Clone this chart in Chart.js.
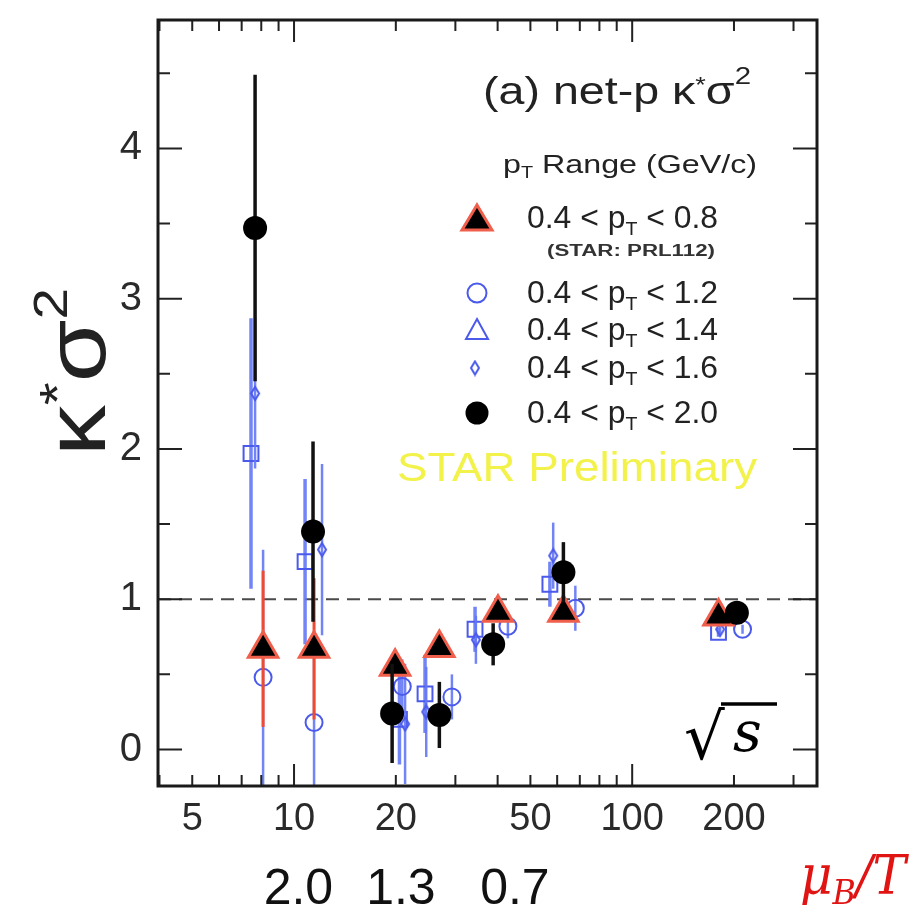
<!DOCTYPE html>
<html><head><meta charset="utf-8">
<script src="https://cdn.jsdelivr.net/npm/chart.js@4/dist/chart.umd.min.js"></script>
<style>html,body{margin:0;padding:0;background:#fff;}#wrap{position:relative;width:914px;height:921px;}</style>
</head><body><div id="wrap"><canvas id="c" width="914" height="921"></canvas></div>
<script>
// ---- data (sqrt(s) in GeV, kappa*sigma^2, error) ----
const energyBlack = [7.67, 11.38, 19.5, 26.9, 38.8, 62.6, 204];
const kappaBlack  = [3.47, 1.45, 0.24, 0.23, 0.70, 1.18, 0.91];
const errBlack    = [1.02, 0.60, 0.33, 0.22, 0.14, 0.20, 0.06];

const energyRed = [8.1, 11.46, 19.9, 26.9, 40.1, 62.6, 180];
const kappaRed  = [0.67, 0.67, 0.55, 0.675, 0.91, 0.91, 0.885];
const errRed    = [0.52, 0.47, 0.06, 0.04, 0.03, 0.05, 0.02];

const energyC12 = [8.1, 11.46, 20.9, 29.3, 42.9, 67.9, 212];
const kappaC12  = [0.48, 0.18, 0.42, 0.35, 0.82, 0.94, 0.80];
const errC12    = [0.85, 0.60, 0.18, 0.15, 0.08, 0.15, 0.03];

const energyS14 = [7.46, 10.78, 20.5, 24.4, 34.3, 57.1, 180];
const kappaS14  = [1.97, 1.25, 0.20, 0.37, 0.80, 1.10, 0.78];
const errS14    = [0.90, 0.55, 0.30, 0.26, 0.15, 0.15, 0.03];

const energyD16 = [7.67, 12.1, 21.3, 24.6, 34.5, 58.4, 182];
const kappaD16  = [2.37, 1.33, 0.17, 0.25, 0.73, 1.29, 0.80];
const errD16    = [0.50, 0.57, 0.40, 0.30, 0.16, 0.22, 0.03];

const referenceLevel = 1;
const xTickValues = [5, 10, 20, 50, 100, 200];
const yTickValues = [0, 1, 2, 3, 4];
const muBLabels   = ['2.0', '1.3', '0.7'];
const muBEnergies = [10.3, 20.7, 45];

// ---- styles ----
const BLUE = 'rgb(75,90,235)';
const BLUE_BAR = 'rgba(100,120,245,0.9)';
const RED_BAR = 'rgb(238,75,50)';
const RED_EDGE = 'rgb(240,95,75)';
const SANS = '"Liberation Sans Narrow","Liberation Sans",Arial,sans-serif';
const SANSW = '"Liberation Sans",Arial,sans-serif';
const XMIN = 3.96, XMAX = 352, YMIN = -0.243, YMAX = 4.855;
const AREA = {left:158, right:817, top:11, bottom:786};

function pts(xs, ys){ return xs.map((x,i)=>({x:x, y:ys[i]})); }

function diamondCanvas(w,h,lw,color){
  const c = document.createElement('canvas'); c.width = w+lw*2; c.height = h+lw*2;
  const g = c.getContext('2d'); const cx=c.width/2, cy=c.height/2;
  g.strokeStyle=color; g.lineWidth=lw; g.beginPath();
  g.moveTo(cx,cy-h/2); g.lineTo(cx+w/2,cy); g.lineTo(cx,cy+h/2); g.lineTo(cx-w/2,cy); g.closePath(); g.stroke();
  return c;
}
const diamondImg = diamondCanvas(8,13,2,BLUE);

function drawRich(ctx, segs, x, y, measureOnly){
  let cx = x;
  for (const s of segs){
    ctx.font = (s.style||'') + ' ' + s.size + 'px ' + (s.family||SANSW);
    if(!measureOnly){ ctx.fillStyle = s.color||'#222'; ctx.fillText(s.t, cx, y+(s.dy||0)); }
    cx += ctx.measureText(s.t).width + (s.kern||0);
  }
  return cx - x;
}
function drawRichFit(ctx, segs, x, y, targetW){
  const w = drawRich(ctx, segs, 0, 0, true);
  ctx.save(); ctx.translate(x, y); ctx.scale(targetW / w, 1);
  drawRich(ctx, segs, 0, 0); ctx.restore();
}

const errorBars = {
  id:'errorBars',
  beforeDatasetDraw(chart, args){
    const ds = chart.data.datasets[args.index];
    if(!ds.err) return;
    const ctx = chart.ctx, xs = chart.scales.x, ys = chart.scales.y, a = chart.chartArea;
    ctx.save(); ctx.beginPath(); ctx.rect(a.left,a.top,a.right-a.left,a.bottom-a.top); ctx.clip();
    ctx.strokeStyle = ds.errColor; ctx.lineWidth = ds.errWidth; ctx.lineCap='butt';
    ds.data.forEach((p,i)=>{
      const px = xs.getPixelForValue(p.x);
      ctx.beginPath(); ctx.moveTo(px, ys.getPixelForValue(p.y - ds.err[i])); ctx.lineTo(px, ys.getPixelForValue(p.y + ds.err[i])); ctx.stroke();
    });
    ctx.restore();
  }
};

const frameAndDecor = {
  id:'frameAndDecor',
  afterDraw(chart){
    const ctx = chart.ctx, xs = chart.scales.x, ys = chart.scales.y, a = chart.chartArea;
    ctx.save();
    // ticks (inward, all four sides)
    ctx.strokeStyle = '#222'; ctx.lineWidth = 2;
    const xt = [];
    for (let d=1; d<=100; d*=10) for (let k=1;k<=9;k++){ const v=k*d; if(v>XMIN && v<XMAX) xt.push({v:v, major:k===1}); }
    xt.forEach(t=>{
      const px = xs.getPixelForValue(t.v), L = t.major?22:11;
      ctx.beginPath(); ctx.moveTo(px,a.bottom); ctx.lineTo(px,a.bottom-L); ctx.moveTo(px,a.top); ctx.lineTo(px,a.top+L); ctx.stroke();
    });
    for (let v=0; v<=4.5; v+=0.5){
      const py = ys.getPixelForValue(v), L = (v%1===0)?24:12;
      ctx.beginPath(); ctx.moveTo(a.left,py); ctx.lineTo(a.left+L,py); ctx.moveTo(a.right,py); ctx.lineTo(a.right-L,py); ctx.stroke();
    }
    // frame
    ctx.lineWidth = 3; ctx.strokeStyle = '#1a1a1a';
    ctx.strokeRect(a.left, a.top, a.right-a.left, a.bottom-a.top);

    ctx.textBaseline='alphabetic';
    // y title kappa*sigma^2 (rotated)
    const ts = [{t:'κ',size:86},{t:'*',size:50,dy:-30},{t:'σ',size:86},{t:'2',size:48,dy:-38}];
    ctx.save(); ctx.translate(105, 456); ctx.rotate(-Math.PI/2);
    drawRichFit(ctx, ts, 0, 0, 168); ctx.restore();

    // title inside plot
    drawRichFit(ctx, [{t:'(a) net-p ',size:38},{t:'κ',size:38},{t:'*',size:22,dy:-12},{t:'σ',size:38},{t:'2',size:24,dy:-20}], 483, 104, 268);
    drawRichFit(ctx, [{t:'p',size:26},{t:'T',size:16,dy:5},{t:' Range (GeV/c)',size:26}], 503, 173, 254);

    // legend
    const lx = 477;
    const entries = [
      {y:228, hi:'0.8', mk:'redtri', my:218},
      {y:303, hi:'1.2', mk:'circle', my:293},
      {y:340, hi:'1.4', mk:'tri', my:330},
      {y:378, hi:'1.6', mk:'diamond', my:368},
      {y:423, hi:'2.0', mk:'dot', my:413}
    ];
    entries.forEach(e=>{
      drawRichFit(ctx, [{t:'0.4 < p',size:31},{t:'T',size:19,dy:7},{t:' < '+e.hi,size:31}], 527, e.y, 191);
      ctx.beginPath();
      if(e.mk==='redtri'){ ctx.moveTo(lx,e.my-13); ctx.lineTo(lx+15,e.my+12); ctx.lineTo(lx-15,e.my+12); ctx.closePath(); ctx.fillStyle='#000'; ctx.fill(); ctx.lineWidth=3; ctx.strokeStyle=RED_EDGE; ctx.stroke(); }
      if(e.mk==='circle'){ ctx.arc(lx,e.my,9.5,0,Math.PI*2); ctx.lineWidth=2; ctx.strokeStyle=BLUE; ctx.stroke(); }
      if(e.mk==='tri'){ ctx.moveTo(lx,e.my-11); ctx.lineTo(lx+11,e.my+9); ctx.lineTo(lx-11,e.my+9); ctx.closePath(); ctx.lineWidth=2; ctx.strokeStyle=BLUE; ctx.stroke(); }
      if(e.mk==='diamond'){ ctx.drawImage(diamondImg, lx-2-diamondImg.width/2, e.my-diamondImg.height/2); }
      if(e.mk==='dot'){ ctx.arc(lx,e.my,11.5,0,Math.PI*2); ctx.fillStyle='#000'; ctx.fill(); }
    });
    drawRichFit(ctx, [{t:'(STAR: PRL112)',size:16,style:'bold',color:'#333'}], 547, 256, 168);

    // STAR Preliminary
    drawRichFit(ctx, [{t:'STAR Preliminary',size:41,color:'rgb(242,242,75)'}], 397, 481, 360);

    // sqrt(s)
    ctx.fillStyle='#000'; ctx.font = '64px "DejaVu Serif",serif';
    ctx.fillText('√', 684, 759);
    ctx.font = 'italic 56px "DejaVu Serif",serif';
    ctx.fillText('s', 733, 751);
    ctx.lineWidth=3.5; ctx.strokeStyle='#000'; ctx.beginPath(); ctx.moveTo(721,704); ctx.lineTo(777,704); ctx.stroke();

    // muB/T row
    ctx.textAlign='center'; ctx.font = '50px '+SANS; ctx.fillStyle='#111';
    muBLabels.forEach((t,i)=>ctx.fillText(t, xs.getPixelForValue(muBEnergies[i]), 904));
    ctx.textAlign='left';
    const RED = 'rgb(225,20,20)', SER = '"DejaVu Serif",serif';
    drawRichFit(ctx, [{t:'μ',size:54,style:'italic',family:SER,color:RED},{t:'B',size:34,style:'italic',family:SER,color:RED,dy:10},{t:'/T',size:54,style:'italic',family:SER,color:RED}], 800, 894, 106);
    ctx.restore();
  }
};

new Chart(document.getElementById('c').getContext('2d'), {
  type:'scatter',
  data:{ datasets:[
    {label:'0.4 < pT < 2.0', order:0, data:pts(energyBlack,kappaBlack), pointStyle:'circle', pointRadius:12, backgroundColor:'#000', borderColor:'#000', borderWidth:0, err:errBlack, errColor:'#111', errWidth:3.5},
    {label:'0.4 < pT < 0.8', order:1, data:pts(energyRed,kappaRed), pointStyle:'triangle', pointRadius:17, backgroundColor:'#000', borderColor:RED_EDGE, borderWidth:3, err:errRed, errColor:RED_BAR, errWidth:3},
    {label:'0.4 < pT < 1.2', order:2, data:pts(energyC12,kappaC12), pointStyle:'circle', pointRadius:8.5, backgroundColor:'rgba(0,0,0,0)', borderColor:BLUE, borderWidth:2, err:errC12, errColor:BLUE_BAR, errWidth:2.5},
    {label:'0.4 < pT < 1.6', order:3, data:pts(energyD16,kappaD16), pointStyle:diamondImg, pointRadius:8, backgroundColor:'rgba(0,0,0,0)', borderColor:BLUE, err:errD16, errColor:BLUE_BAR, errWidth:2.5},
    {label:'0.4 < pT < 1.4', order:4, data:pts(energyS14,kappaS14), pointStyle:'rect', pointRadius:10.5, backgroundColor:'rgba(255,255,255,0)', borderColor:BLUE, borderWidth:2, err:errS14, errColor:BLUE_BAR, errWidth:3.5},
    {label:'ref', order:10, data:[{x:XMIN,y:referenceLevel},{x:XMAX,y:referenceLevel}], showLine:true, pointRadius:0, borderColor:'#4a4a4a', borderWidth:2, borderDash:[13,8]}
  ]},
  options:{
    responsive:false, animation:false, devicePixelRatio:1,
    layout:{padding:{left:0,right:914-AREA.right,top:AREA.top,bottom:0}},
    plugins:{legend:{display:false}, tooltip:{enabled:false}},
    scales:{
      x:{type:'logarithmic', min:XMIN, max:XMAX,
        grid:{display:false, drawTicks:false}, border:{display:false},
        afterBuildTicks:s=>{ s.ticks = xTickValues.map(v=>({value:v})); },
        afterFit:s=>{ s.height = 921-AREA.bottom; s.paddingLeft = 0; s.paddingRight = 0; },
        ticks:{autoSkip:false, maxRotation:0, padding:11, color:'#2a2a2a', font:{family:SANS, size:38}, callback:v=>String(v)}},
      y:{min:YMIN, max:YMAX,
        grid:{display:false, drawTicks:false}, border:{display:false},
        afterBuildTicks:s=>{ s.ticks = yTickValues.map(v=>({value:v})); },
        afterFit:s=>{ s.width = AREA.left; s.paddingTop = 0; s.paddingBottom = 0; },
        ticks:{padding:16, color:'#2a2a2a', font:{family:SANS, size:40}, callback:v=>String(v)}}
    }
  },
  plugins:[errorBars, frameAndDecor]
});
</script></body></html>
